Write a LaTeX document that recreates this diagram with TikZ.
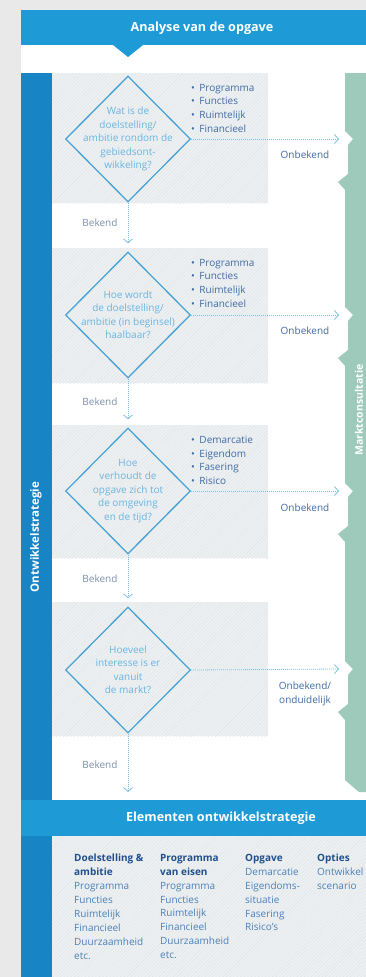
\documentclass[tikz,border=0pt]{standalone}
\usepackage{fontspec}
\setmainfont{Open Sans}
\usetikzlibrary{shapes.geometric,arrows.meta,patterns.meta}
\definecolor{pagegray}{HTML}{E9E9E9}
\definecolor{bannerblue}{HTML}{1E9AD6}
\definecolor{barblue}{HTML}{1784C5}
\definecolor{marktgreen}{HTML}{9DCABB}
\definecolor{panelfill}{HTML}{EEF1F2}
\definecolor{hatch}{HTML}{DEE3E6}
\definecolor{askline}{HTML}{4AA3D6}
\definecolor{asktxt}{HTML}{6AB4E0}
\definecolor{listtxt}{HTML}{3E6AA4}
\definecolor{bekendtxt}{HTML}{7C8FAA}
\definecolor{headtxt}{HTML}{1F4F8C}
\definecolor{itemtxt}{HTML}{4A80B9}
\newcommand{\bul}{•\hspace{4.5pt}}
\begin{document}
\begin{tikzpicture}[x=1pt,y=-1pt,
  ask/.style={diamond, draw=askline, line width=1.3pt, minimum width=125pt, minimum height=126pt, inner sep=0pt},
  asktext/.style={text=asktxt, align=center, font=\fontsize{10}{13.5}\selectfont},
  bullets/.style={text=listtxt, align=left, anchor=north west, inner sep=0pt, font=\fontsize{10}{13.6}\selectfont},
  flow/.style={draw=askline!70, line width=0.8pt, dash pattern=on 1pt off 1pt, -{Straight Barb[length=4pt,width=9pt,line width=0.8pt]}},
  answer/.style={text=bekendtxt, font=\fontsize{10}{13.5}\selectfont},
  noanswer/.style={text=listtxt, align=center, font=\fontsize{10}{13.5}\selectfont},
  bartitle/.style={text=white, font=\fontsize{12.6}{15}\selectfont\bfseries},
  sidetitle/.style={text=white, rotate=90, font=\fontsize{11.5}{13}\selectfont\bfseries},
  column/.style={text=itemtxt, align=left, anchor=north west, inner sep=0pt, font=\fontsize{10}{13.9}\selectfont},
  panel/.style={preaction={fill=panelfill}, pattern={Lines[angle=45,distance=2.5pt,line width=0.4pt]}, pattern color=hatch}]

\useasboundingbox (0,0) rectangle (366,977);
\fill[pagegray] (0,0) rectangle (366,977);
\fill[white] (21,10) rectangle (366,977);

\fill[panel] (52,73) rectangle (268,203);
\fill[panel] (52,248) rectangle (268,383);
\fill[panel] (52,425) rectangle (268,558);
\fill[panel] (52,602) rectangle (268,736);
\fill[panel] (52,836) rectangle (366,977);

\fill[bannerblue] (21,10) rectangle (366,45);
\fill[bannerblue] (113,45) -- (128,57) -- (143,45) -- cycle;
\fill[barblue] (21,73) rectangle (52,977);
\fill[bannerblue] (21,800) rectangle (366,836);
\fill[marktgreen] (345,73)
  \foreach \a in {139,315,491,669} { -- (345,\a-8) -- (353,\a) -- (348,\a+6) -- (348,\a+35) -- (338,\a+43) -- (345,\a+51) }
  -- (345,780) -- (359,792) -- (366,792) -- (366,73) -- cycle;

\node[bartitle] (top) at (202,28) {Analyse van de opgave};
\node[bartitle] (bottom) at (221,818) {Elementen ontwikkelstrategie};
\node[sidetitle] (strategie) at (36,537) {Ontwikkelstrategie};
\node[sidetitle, font=\fontsize{10.5}{13}\selectfont\bfseries] (markt) at (359,410) {Marktconsultatie};

\node[ask] (d1) at (128,139) {};
\node[ask] (d2) at (128,315) {};
\node[ask] (d3) at (128,491) {};
\node[ask] (d4) at (128,670) {};
\node[asktext] (q1) at (d1) {Wat is de\\doelstelling/\\ambitie rondom de\\gebiedsont-\\wikkeling?};
\node[asktext] (q2) at (d2) {Hoe wordt\\de doelstelling/\\ambitie (in beginsel)\\haalbaar?};
\node[asktext] (q3) at (d3) {Hoe\\verhoudt de\\opgave zich tot\\de omgeving\\en de tijd?};
\node[asktext] (q4) at (d4) {Hoeveel\\interesse is er\\vanuit\\de markt?};

\node[bullets] (l1) at (191,84) {\bul Programma\\\bul Functies\\\bul Ruimtelijk\\\bul Financieel};
\node[bullets] (l2) at (191,259) {\bul Programma\\\bul Functies\\\bul Ruimtelijk\\\bul Financieel};
\node[bullets] (l3) at (191,436) {\bul Demarcatie\\\bul Eigendom\\\bul Fasering\\\bul Risico};

\coordinate (m1) at (339,139);
\coordinate (m2) at (339,315);
\coordinate (m3) at (339,491);
\coordinate (m4) at (339,669);
\coordinate (end) at (128,792);

\draw[flow] (d1.east) -- (m1);
\draw[flow] (d2.east) -- (m2);
\draw[flow] (d3.east) -- (m3);
\draw[flow] (d4.east) -- (m4);
\draw[flow, shorten >=8pt] (d1.south) -- (d2.north);
\draw[flow, shorten >=8pt] (d2.south) -- (d3.north);
\draw[flow, shorten >=8pt] (d3.south) -- (d4.north);
\draw[flow] (d4.south) -- (end);

\node[noanswer] (o1) at (305,155) {Onbekend};
\node[noanswer] (o2) at (305,331) {Onbekend};
\node[noanswer] (o3) at (305,508) {Onbekend};
\node[noanswer] (o4) at (305,694) {Onbekend/\\onduidelijk};
\node[answer] (b1) at (100,223) {Bekend};
\node[answer] (b2) at (100,402) {Bekend};
\node[answer] (b3) at (100,579) {Bekend};
\node[answer] (b4) at (100,765) {Bekend};

\node[column] (c1) at (74,854) {\textcolor{headtxt}{\bfseries Doelstelling \&}\\\textcolor{headtxt}{\bfseries ambitie}\\Programma\\Functies\\Ruimtelijk\\Financieel\\Duurzaamheid\\etc.};
\node[column] (c2) at (160,854) {\textcolor{headtxt}{\bfseries Programma}\\\textcolor{headtxt}{\bfseries van eisen}\\Programma\\Functies\\Ruimtelijk\\Financieel\\Duurzaamheid\\etc.};
\node[column] (c3) at (245,854) {\textcolor{headtxt}{\bfseries Opgave}\\Demarcatie\\Eigendoms-\\situatie\\Fasering\\Risico’s};
\node[column] (c4) at (317,854) {\textcolor{headtxt}{\bfseries Opties}\\Ontwikkel\\scenario};
\end{tikzpicture}
\end{document}
